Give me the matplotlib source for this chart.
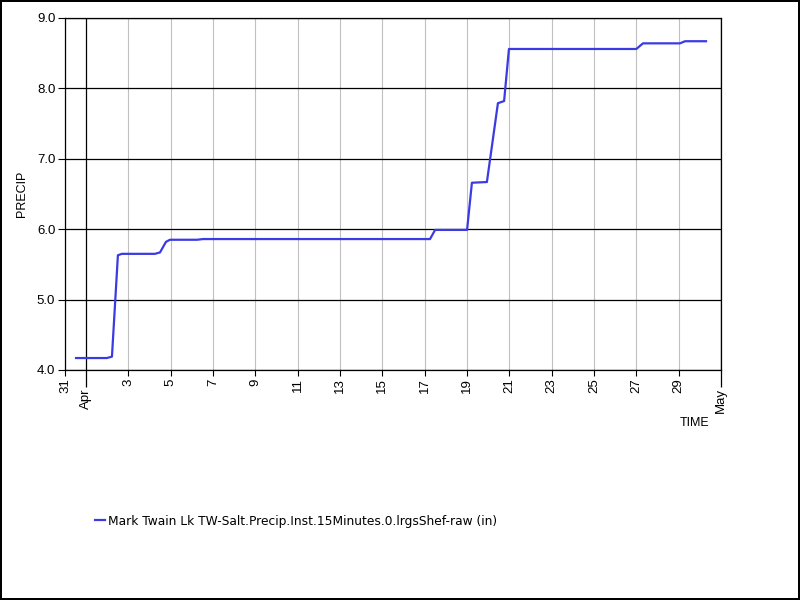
"""
Mark Twain Lk precip, April: cumulative gauge reading vs time.
"""
import matplotlib
matplotlib.use('Agg')
import matplotlib.pyplot as plt
import matplotlib.dates as mdates
from matplotlib.ticker import FuncFormatter
import pandas as pd

LINE_BLUE = "#3b3be3"
SERIES_NAME = "Mark Twain Lk TW-Salt.Precip.Inst.15Minutes.0.lrgsShef-raw (in)"

# readings (time, inches)
times = pd.to_datetime([
    "2023-03-31 12:30", "2023-04-01 23:30", "2023-04-02 05:15",
    "2023-04-02 12:00", "2023-04-02 16:30", "2023-04-04 06:00",
    "2023-04-04 11:45", "2023-04-04 18:30", "2023-04-04 23:00",
    "2023-04-06 05:45", "2023-04-06 12:30", "2023-04-17 06:00",
    "2023-04-17 11:45", "2023-04-19 00:00", "2023-04-19 05:30",
    "2023-04-19 22:30", "2023-04-20 11:00", "2023-04-20 18:00",
    "2023-04-20 23:30", "2023-04-27 00:00", "2023-04-27 07:30",
    "2023-04-29 01:30", "2023-04-29 07:15", "2023-04-30 07:00",
])
precip = [
    4.17, 4.17, 4.19,
    5.63, 5.65, 5.65,
    5.67, 5.82, 5.85,
    5.85, 5.86, 5.86,
    5.99, 5.99, 6.66,
    6.67, 7.79, 7.82,
    8.56, 8.56, 8.64,
    8.64, 8.67, 8.67,
]

x_start = pd.Timestamp("2023-03-31")
x_end = pd.Timestamp("2023-05-01")

fig = plt.figure(figsize=(8, 6), dpi=100)
fig.patch.set_facecolor("white")
fig.patch.set_edgecolor("black")
fig.patch.set_linewidth(1.5)

ax = fig.add_axes([65 / 800, 1 - 370 / 600, 656 / 800, 352 / 600])
ax.plot(times, precip, color=LINE_BLUE, lw=1.6, label=SERIES_NAME, zorder=3)

ax.set_xlim(x_start, x_end)
ax.set_ylim(4.0, 9.0)
ax.set_yticks([4.0, 5.0, 6.0, 7.0, 8.0, 9.0])
ax.yaxis.set_major_formatter(FuncFormatter(lambda v, _: f"{v:.1f}"))

# months as major ticks, odd days as minor ticks
ax.xaxis.set_major_locator(mdates.MonthLocator())
ax.xaxis.set_major_formatter(mdates.DateFormatter("%b"))
ax.xaxis.set_minor_locator(mdates.DayLocator(bymonthday=range(1, 32, 2)))
ax.xaxis.set_minor_formatter(FuncFormatter(lambda v, _: str(mdates.num2date(v).day)))

ax.grid(True, which="major", axis="both", color="black", lw=0.9)
ax.grid(True, which="minor", axis="x", color="#c0c0c0", lw=0.8)
ax.set_axisbelow(True)

for s in ax.spines.values():
    s.set_color("black")
    s.set_linewidth(0.9)

ax.tick_params(axis="y", which="major", length=5, width=0.8, labelsize=9.5, pad=2)
ax.tick_params(axis="x", which="minor", length=4, width=0.8, labelsize=9.5,
               labelrotation=90, pad=2)
ax.tick_params(axis="x", which="major", length=12, width=0.9, labelsize=9.5,
               labelrotation=90, pad=1)
for lab in ax.get_yticklabels() + ax.get_xticklabels(which="both"):
    lab.set_family("Liberation Sans")

ax.set_ylabel("PRECIP", fontsize=9, family="Liberation Sans", va="center")
ax.yaxis.set_label_coords(-43 / 656, 0.5)
fig.text(709 / 800, 1 - 423 / 600, "TIME", ha="right", va="center",
         fontsize=9, family="Liberation Sans")

fig.legend(loc="center left", bbox_to_anchor=(84 / 800, 1 - 521 / 600),
           frameon=False, handlelength=0.8, handletextpad=0.3,
           prop={"family": "DejaVu Sans", "size": 8.8})

fig.savefig("out.png", dpi=100, facecolor=fig.get_facecolor(),
            edgecolor=fig.get_edgecolor())
